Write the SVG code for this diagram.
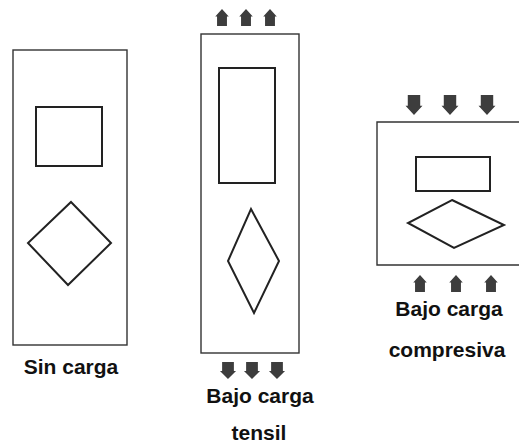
<svg xmlns="http://www.w3.org/2000/svg" width="519" height="445" viewBox="0 0 519 445">
  <style>
    .frame { fill: none; stroke: #333; stroke-width: 1.4; }
    .shape { fill: none; stroke: #222; stroke-width: 2; stroke-linejoin: miter; }
    .arrow { fill: #3d3d3d; }
    .label { font-family: "Liberation Sans", Arial, sans-serif; font-weight: bold; font-size: 21px; fill: #111; text-anchor: middle; }
  </style>
  <defs>
    <!-- block arrows, 15 wide x 16 tall, origin at top centre -->
    <path id="arrowUp" class="arrow" d="M0,0 L7.5,7 L5.5,7 L5.5,16 L-5.5,16 L-5.5,7 L-7.5,7 Z"/>
    <path id="arrowDown" class="arrow" d="M-5.5,0 L5.5,0 L5.5,8.5 L7.5,8.5 L0,16 L-7.5,8.5 L-5.5,8.5 Z"/>
  </defs>
  <rect width="519" height="445" fill="#fff"/>

  <!-- unloaded specimen -->
  <g id="sin-carga">
    <rect class="frame" x="13" y="50" width="114" height="295"/>
    <rect class="shape" x="36" y="107" width="66" height="59"/>
    <polygon class="shape" points="71,202 111,243 68,285 28,243"/>
    <text class="label" x="71" y="374">Sin carga</text>
  </g>

  <!-- specimen under tension -->
  <g id="bajo-carga-tensil">
    <rect class="frame" x="201" y="34" width="98" height="319"/>
    <rect class="shape" x="219" y="68" width="56" height="115"/>
    <polygon class="shape" points="251,209 279,261 254,313 228,261"/>
    <text class="label" x="260" y="403">Bajo carga</text>
    <text class="label" x="259" y="440">tensil</text>
  </g>

  <!-- specimen under compression (frame runs past the right edge) -->
  <g id="bajo-carga-compresiva">
    <path class="frame" d="M521,122 L377,122 L377,265 L521,265"/>
    <rect class="shape" x="416" y="157" width="74" height="34"/>
    <polygon class="shape" points="452,200 504,225 454,248 408,223"/>
    <text class="label" x="449" y="316">Bajo carga</text>
    <text class="label" x="447" y="357">compresiva</text>
  </g>

  <!-- load arrows -->
  <g id="connectors">
    <use href="#arrowUp" transform="translate(222,9) scale(0.9,1.06)"/>
    <use href="#arrowUp" transform="translate(246,9) scale(0.9,1.06)"/>
    <use href="#arrowUp" transform="translate(270,9) scale(0.9,1.06)"/>
    <use href="#arrowDown" transform="translate(228,362) scale(1.07,1.06)"/>
    <use href="#arrowDown" transform="translate(252,362) scale(1.07,1.06)"/>
    <use href="#arrowDown" transform="translate(277,362) scale(1.07,1.06)"/>
    <use href="#arrowDown" transform="translate(414,95) scale(1.13,1.25)"/>
    <use href="#arrowDown" transform="translate(450,95) scale(1.13,1.25)"/>
    <use href="#arrowDown" transform="translate(487,95) scale(1.13,1.25)"/>
    <use href="#arrowUp" transform="translate(420,275) scale(0.9,1.06)"/>
    <use href="#arrowUp" transform="translate(456,275) scale(0.9,1.06)"/>
    <use href="#arrowUp" transform="translate(491,275) scale(0.9,1.06)"/>
  </g>
</svg>
